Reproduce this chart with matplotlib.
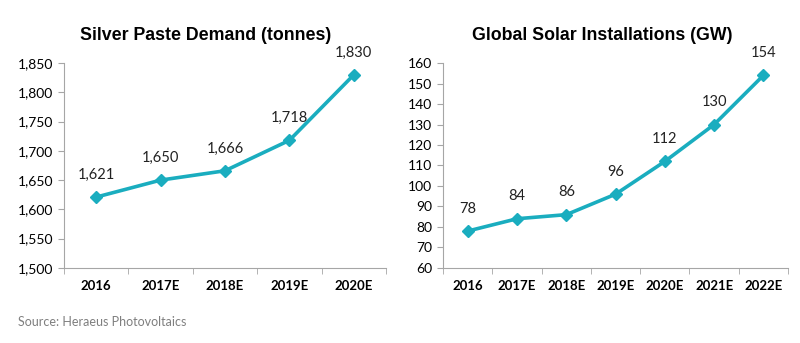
import matplotlib
matplotlib.use("Agg")
from matplotlib import pyplot as plt
from matplotlib.ticker import FuncFormatter, FixedLocator

# Data
silver_years = ["2016", "2017E", "2018E", "2019E", "2020E"]
silver_demand = [1621, 1650, 1666, 1718, 1830]

solar_years = ["2016", "2017E", "2018E", "2019E", "2020E", "2021E", "2022E"]
solar_gw = [78, 84, 86, 96, 112, 130, 154]

teal = "#1aadbf"
axis_grey = "#a6a6a6"
plt.rcParams["font.family"] = ["Lato", "DejaVu Sans"]

fig = plt.figure(figsize=(8, 3.43), dpi=100)
ax1 = fig.add_axes([0.080, 0.219, 0.4025, 0.597])
ax2 = fig.add_axes([0.554, 0.219, 0.431, 0.597])


def style_panel(ax, cats, vals, ylim, ystep, title, title_x, fmt):
    x = list(range(len(cats)))
    ax.plot(x, vals, color=teal, lw=2.6, marker="D", ms=6.5,
            markeredgecolor=teal, zorder=3)
    for xi, v in zip(x, vals):
        ax.annotate(fmt(v), (xi, v), xytext=(0, 11), textcoords="offset points",
                    ha="center", va="bottom", fontsize=10.5, color="#222222")
    ax.set_xlim(-0.5, len(cats) - 0.5)
    ax.set_ylim(*ylim)
    ax.set_yticks(range(ylim[0], ylim[1] + 1, ystep))
    ax.yaxis.set_major_formatter(FuncFormatter(lambda v, p: fmt(v)))
    ax.set_xticks(x)
    ax.set_xticklabels(cats, fontweight="bold", fontsize=9.5)
    ax.xaxis.set_minor_locator(FixedLocator([i - 0.5 for i in range(len(cats) + 1)]))
    ax.tick_params(axis="x", which="major", length=0, pad=9)
    ax.tick_params(axis="x", which="minor", length=4, color=axis_grey)
    ax.tick_params(axis="y", length=4, color=axis_grey, labelsize=10, pad=4)
    for s in ("top", "right"):
        ax.spines[s].set_visible(False)
    for s in ("left", "bottom"):
        ax.spines[s].set_color(axis_grey)
    ax.set_title(title, fontsize=12.8, fontweight="bold", x=title_x,
                 family=["Liberation Sans", "DejaVu Sans"], pad=17)


style_panel(ax1, silver_years, silver_demand, (1500, 1850), 50,
            "Silver Paste Demand (tonnes)", 0.44, lambda v: f"{int(v):,}")
style_panel(ax2, solar_years, solar_gw, (60, 160), 10,
            "Global Solar Installations (GW)", 0.46, lambda v: f"{int(v)}")

fig.text(0.022, 0.06, "Source: Heraeus Photovoltaics", fontsize=9,
         color="#7f7f7f", ha="left", va="center")

fig.savefig("out.png", dpi=100)
